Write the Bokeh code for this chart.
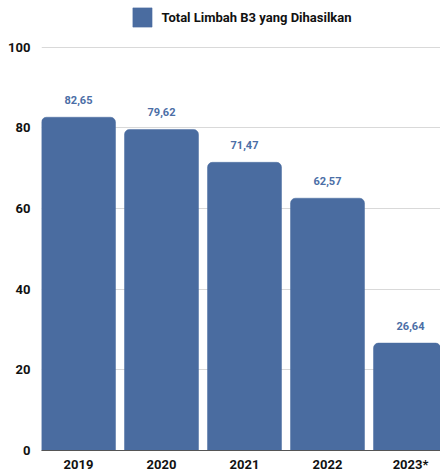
from bokeh.plotting import figure
from bokeh.models import (ColumnDataSource, Range1d, FixedTicker, Legend,
                          LegendItem)
from bokeh.core.properties import value
from bokeh.embed import file_html
from bokeh.resources import INLINE

# Hazardous (B3) waste generated per year
years = ["2019", "2020", "2021", "2022", "2023*"]
waste = [82.65, 79.62, 71.47, 62.57, 26.64]
y_ticks = [0, 20, 40, 60, 80, 100]
series_name = "Total Limbah B3 yang Dihasilkan"

BAR = "#4a6ca0"
LABEL_BLUE = "#4b6ea6"
FONT = "Roboto"

positions = list(range(len(years)))
labels = [f"{v:.2f}".replace(".", ",") for v in waste]
source = ColumnDataSource(dict(x=positions, top=waste, label=labels))

bar_w = 74 / 83
left = -bar_w / 2
p = figure(width=440, height=474, output_backend="svg", toolbar_location=None,
           x_range=Range1d(left, left + 399 / 83), y_range=Range1d(0, 452 / 4.05),
           min_border_left=41, min_border_right=0, min_border_top=0,
           min_border_bottom=22)
p.outline_line_color = None
p.background_fill_color = "white"
p.border_fill_color = "white"

bars = p.vbar(x="x", top="top", width=bar_w, source=source, fill_color=BAR,
              line_color=BAR, line_width=0.5, border_radius=(5, 5, 0, 0))

# value labels floating above each bar
p.text(x="x", y="top", text="label", source=source, y_offset=-17,
       text_align="center", text_baseline="middle",
       text_font=value(FONT), text_font_style="bold",
       text_font_size="11px", text_color=LABEL_BLUE)

# axes
for ax in (p.xaxis, p.yaxis):
    ax.major_tick_in = 0
    ax.major_tick_out = 0
    ax.minor_tick_in = 0
    ax.minor_tick_out = 0
    ax.major_tick_line_color = None
    ax.minor_tick_line_color = None
    ax.major_label_text_font = FONT
    ax.major_label_text_font_style = "bold"
    ax.major_label_text_font_size = "13px"
    ax.major_label_text_color = "#111111"

p.xaxis.ticker = FixedTicker(ticks=positions)
p.xaxis.major_label_overrides = {i: y for i, y in enumerate(years)}
p.xaxis.axis_line_color = "#555555"
p.xaxis.major_label_standoff = 6

p.yaxis.ticker = FixedTicker(ticks=y_ticks)
p.yaxis.axis_line_color = None
p.yaxis.major_label_standoff = 11

p.xgrid.grid_line_color = None
p.ygrid.grid_line_color = "#d9d9d9"
p.ygrid.grid_line_width = 1

# legend swatch is drawn at 80% of the glyph box, so the box is a little larger
legend = Legend(items=[LegendItem(label=series_name, renderers=[bars])],
                location="top_center", orientation="horizontal",
                padding=0, margin=5, spacing=0,
                glyph_width=24, glyph_height=24, label_standoff=8,
                label_text_font=FONT, label_text_font_style="bold",
                label_text_font_size="13px", label_text_color="#111111",
                border_line_alpha=0, background_fill_alpha=0)
p.add_layout(legend)

open("out.html", "w").write(file_html(p, INLINE))
